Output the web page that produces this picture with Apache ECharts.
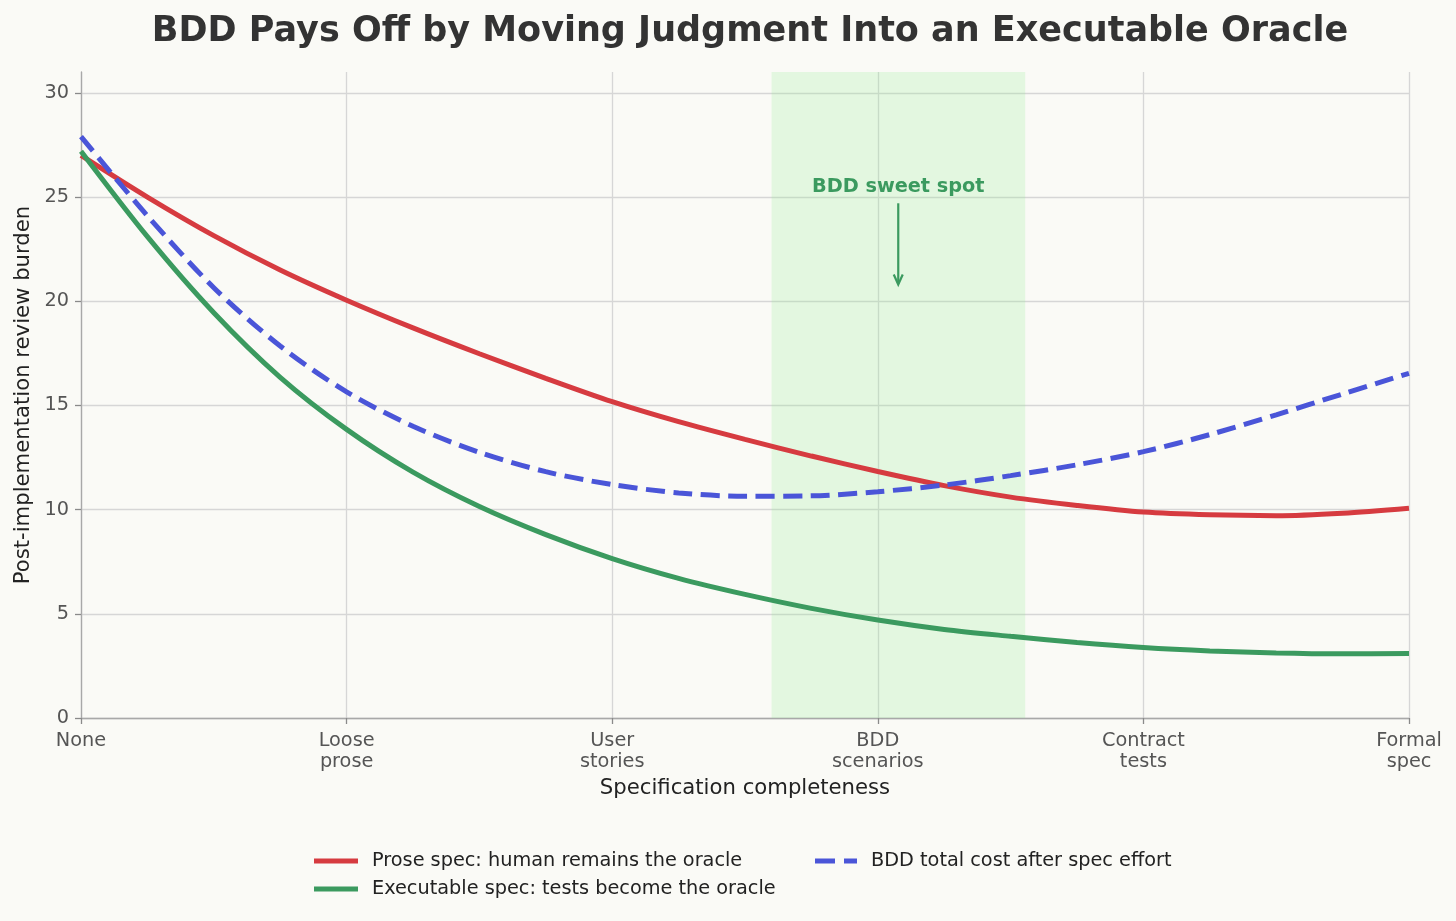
<!DOCTYPE html>
<html>
<head>
<meta charset="utf-8">
<script src="https://cdn.jsdelivr.net/npm/echarts@6/dist/echarts.min.js"></script>
<style>
html,body{margin:0;padding:0;background:#fafaf6;}
#c{width:1456px;height:921px;}
</style>
</head>
<body>
<div id="c"></div>
<script>
const titleText = 'BDD Pays Off by Moving Judgment Into an Executable Oracle';
const xCategories = ['None', 'Loose\nprose', 'User\nstories', 'BDD\nscenarios', 'Contract\ntests', 'Formal\nspec'];
const yTicks = [0, 5, 10, 15, 20, 25, 30];
const xs = [0, 0.25, 0.5, 0.75, 1, 1.25, 1.5, 1.75, 2, 2.25, 2.5, 2.75, 3, 3.25, 3.5, 3.75, 4, 4.25, 4.5, 4.75, 5];
const proseSpec = [27.0, 25.0, 23.15, 21.5, 20.05, 18.72, 17.48, 16.3, 15.18, 14.22, 13.37, 12.57, 11.83, 11.15, 10.6, 10.2, 9.88, 9.75, 9.71, 9.83, 10.07];
const executableSpec = [27.2, 23.1, 19.45, 16.35, 13.85, 11.8, 10.15, 8.8, 7.65, 6.7, 5.93, 5.26, 4.7, 4.25, 3.92, 3.62, 3.38, 3.22, 3.12, 3.08, 3.1];
const bddTotal = [27.9, 24.1, 20.65, 17.85, 15.65, 14.0, 12.75, 11.82, 11.2, 10.8, 10.64, 10.66, 10.86, 11.18, 11.63, 12.15, 12.78, 13.6, 14.55, 15.55, 16.54];
const sweetSpotRange = [2.6, 3.555];
const arrowX = 3.077;
const arrowFromY = 24.7;
const arrowToY = 20.8;
const labelY = 25.5;
const seriesNames = ['Prose spec: human remains the oracle', 'Executable spec: tests become the oracle', 'BDD total cost after spec effort'];

const FONT = 'DejaVu Sans';
const RED = '#d63b40', GREEN = '#3b9a5f', BLUE = '#4a55d8';
const pair = (arr) => xs.map((x, i) => [x, arr[i]]);
const legendText = {fontFamily: FONT, fontSize: 19.3, color: '#222222', lineHeight: 23, padding: [0, 0, 0, 9]};

const chart = echarts.init(document.getElementById('c'), null, {renderer: 'canvas'});
chart.setOption({
  backgroundColor: '#fafaf6',
  animation: false,
  title: {
    text: titleText,
    left: 745, textAlign: 'center', top: 9,
    textStyle: {fontFamily: FONT, fontSize: 35, fontWeight: 'bold', color: '#333333'}
  },
  grid: {left: 81, right: 47, top: 72, bottom: 203, containLabel: false},
  legend: [
    {
      data: [
        {name: seriesNames[0], icon: 'rect', itemStyle: {color: RED}},
        {name: seriesNames[1], icon: 'rect', itemStyle: {color: GREEN}}
      ],
      orient: 'vertical', left: 314, top: 849.5, itemGap: 5, padding: 0,
      itemWidth: 44, itemHeight: 5,
      textStyle: legendText
    },
    {
      data: [
        {name: seriesNames[2], icon: 'path://M0,0H20V5H0ZM29,0H42V5H29Z', itemStyle: {color: BLUE}}
      ],
      orient: 'vertical', left: 815, top: 849.5, padding: 0,
      itemWidth: 42, itemHeight: 5,
      textStyle: legendText
    }
  ],
  xAxis: {
    type: 'value', min: 0, max: 5, interval: 1,
    name: 'Specification completeness', nameLocation: 'middle', nameGap: 60,
    nameTextStyle: {fontFamily: FONT, fontSize: 21.2, color: '#222222'},
    axisLine: {show: true, lineStyle: {color: '#a8a8a8', width: 1.3}},
    axisTick: {show: true, inside: false, length: 6, lineStyle: {color: '#8a8a8a', width: 1.3}},
    axisLabel: {
      fontFamily: FONT, fontSize: 19.3, color: '#555555', margin: 13, lineHeight: 20.6,
      formatter: (v) => xCategories[Math.round(v)]
    },
    splitLine: {show: true, lineStyle: {color: '#d6d6d6', width: 1.3}}
  },
  yAxis: {
    type: 'value', min: 0, max: 31, interval: 5,
    name: 'Post-implementation review burden', nameLocation: 'middle', nameGap: 46,
    nameTextStyle: {fontFamily: FONT, fontSize: 21.2, color: '#222222'},
    axisLine: {show: true, lineStyle: {color: '#a8a8a8', width: 1.3}},
    axisTick: {show: true, inside: false, length: 6, lineStyle: {color: '#8a8a8a', width: 1.3}, customValues: yTicks},
    axisLabel: {fontFamily: FONT, fontSize: 19.3, color: '#555555', margin: 12, customValues: yTicks},
    splitLine: {show: true, lineStyle: {color: '#d6d6d6', width: 1.3}}
  },
  series: [
    {
      name: seriesNames[0], type: 'line', data: pair(proseSpec), smooth: 0.3,
      symbol: 'none', z: 3,
      lineStyle: {color: RED, width: 5},
      itemStyle: {color: RED},
      markArea: {
        silent: true,
        itemStyle: {color: 'rgba(144,238,144,0.22)'},
        data: [[{xAxis: sweetSpotRange[0]}, {xAxis: sweetSpotRange[1]}]]
      }
    },
    {
      name: seriesNames[1], type: 'line', data: pair(executableSpec), smooth: 0.3,
      symbol: 'none', z: 3,
      lineStyle: {color: GREEN, width: 5},
      itemStyle: {color: GREEN}
    },
    {
      name: seriesNames[2], type: 'line', data: pair(bddTotal), smooth: 0.3,
      symbol: 'none', z: 4,
      lineStyle: {color: BLUE, width: 5, type: [19, 8.5]},
      itemStyle: {color: BLUE}
    },
    {
      type: 'custom', silent: true, z: 5,
      data: [[arrowX, arrowFromY, arrowToY, labelY]],
      renderItem: function (params, api) {
        const p0 = api.coord([api.value(0), api.value(1)]);
        const p1 = api.coord([api.value(0), api.value(2)]);
        const pl = api.coord([api.value(0), api.value(3)]);
        return {
          type: 'group',
          children: [
            {type: 'line', shape: {x1: p0[0], y1: p0[1], x2: p1[0], y2: p1[1] - 1}, style: {stroke: GREEN, lineWidth: 2.2}},
            {type: 'polyline', shape: {points: [[p1[0] - 4.5, p1[1] - 10], [p1[0], p1[1]], [p1[0] + 4.5, p1[1] - 10]]}, style: {stroke: GREEN, lineWidth: 2.2, fill: null}},
            {type: 'text', x: pl[0], y: pl[1], style: {text: 'BDD sweet spot', fill: GREEN, font: 'bold 19.3px "DejaVu Sans"', align: 'center', verticalAlign: 'middle'}}
          ]
        };
      }
    }
  ]
});
</script>
</body>
</html>
